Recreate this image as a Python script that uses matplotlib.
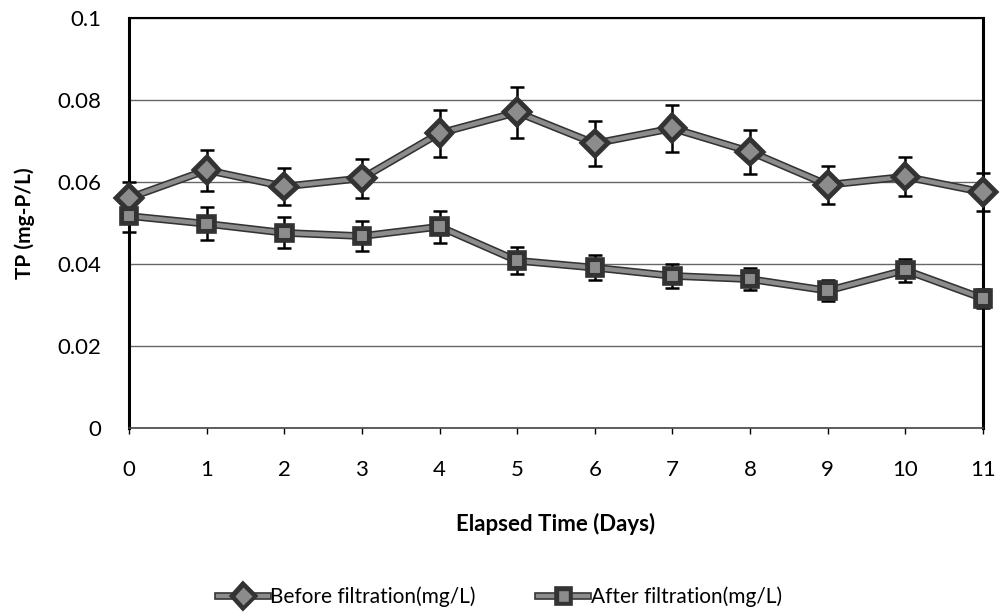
import matplotlib
matplotlib.use("Agg")
import matplotlib.pyplot as plt
import matplotlib.patheffects as pe
from matplotlib.lines import Line2D

plt.rcParams['font.family'] = ['Lato', 'DejaVu Sans']

days = [0, 1, 2, 3, 4, 5, 6, 7, 8, 9, 10, 11]
before = [0.0561, 0.0629, 0.0589, 0.0609, 0.0719, 0.0770, 0.0694, 0.0731, 0.0674, 0.0593, 0.0613, 0.0575]
before_err = [0.0040, 0.0050, 0.0046, 0.0048, 0.0057, 0.0062, 0.0055, 0.0058, 0.0054, 0.0047, 0.0048, 0.0046]
after = [0.0517, 0.0498, 0.0476, 0.0468, 0.0491, 0.0408, 0.0391, 0.0371, 0.0363, 0.0335, 0.0385, 0.0316]
after_err = [0.0040, 0.0040, 0.0038, 0.0037, 0.0039, 0.0033, 0.0031, 0.0030, 0.0027, 0.0025, 0.0028, 0.0024]
yticks = [0, 0.02, 0.04, 0.06, 0.08, 0.1]
yticklabels = ['0', '0.02', '0.04', '0.06', '0.08', '0.1']
labels = ['Before filtration(mg/L)', 'After filtration(mg/L)']

fig = plt.figure(figsize=(10.03, 6.13), dpi=100)
ax = fig.add_axes([129/1003, 1 - 428/613, (983-129)/1003, (428-18)/613])

ax.set_xlim(0, 11)
ax.set_ylim(0, 0.1)
ax.set_yticks(yticks)
ax.set_yticklabels(yticklabels)
ax.set_xticks(days)
ax.yaxis.grid(True, color='#666666', lw=1.0)
ax.set_axisbelow(True)

outline = [pe.Stroke(linewidth=5.5, foreground='#333333'), pe.Normal()]
for y, e, m, ms in [(before, before_err, 'D', 11), (after, after_err, 's', 9)]:
    ax.errorbar(days, y, yerr=e, fmt='none', ecolor='black', elinewidth=1.8,
                capsize=5, capthick=1.8, zorder=3, clip_on=False)
    ax.plot(days, y, color='#8c8c8c', lw=3.2, marker=m, ms=ms,
            mfc='#8c8c8c', mec='#333333', mew=1.5, zorder=4, clip_on=False,
            path_effects=outline)

for s in ['left', 'right']:
    ax.spines[s].set_linewidth(2.2)
ax.spines['top'].set_linewidth(1.5)
ax.spines['bottom'].set_linewidth(1.2)
ax.spines['bottom'].set_color('#444444')
ax.tick_params(axis='y', length=0, pad=20, labelsize=16)
ax.tick_params(axis='x', direction='out', length=4, width=1, pad=19, labelsize=16)

ax.set_xlabel('Elapsed Time (Days)', fontsize=16, fontweight='bold', labelpad=24)
ax.set_ylabel('TP (mg-P/L)', fontsize=15, fontweight='bold', labelpad=16)

handles = [Line2D([], [], color='#8c8c8c', lw=3.2, marker='D', ms=10, mfc='#8c8c8c', mec='#333333',
                  path_effects=outline),
           Line2D([], [], color='#8c8c8c', lw=3.2, marker='s', ms=8, mfc='#8c8c8c', mec='#333333',
                  path_effects=outline)]
fig.legend(handles, labels, loc='center', bbox_to_anchor=(500/1003, 1 - 597/613), ncol=2,
           frameon=False, fontsize=15, handlelength=2.4, columnspacing=3.0, handletextpad=0.1)

fig.savefig('out.png', dpi=100)
